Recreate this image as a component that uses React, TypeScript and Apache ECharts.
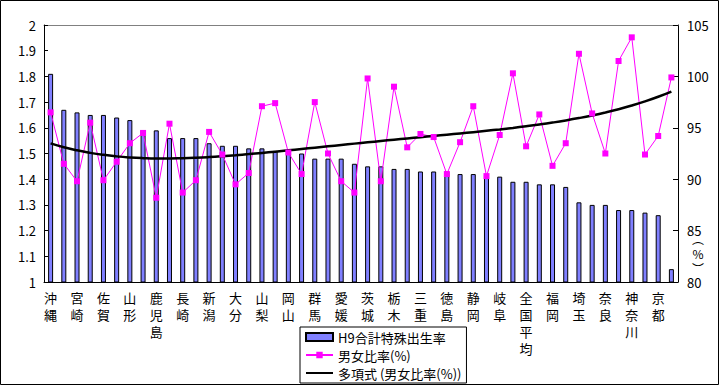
import React, { useEffect, useRef } from "react";
import * as echarts from "echarts";

const categories = [
  "沖縄", "島根", "宮崎", "福島", "佐賀", "鳥取", "山形", "熊本", "鹿児島", "長野",
  "長崎", "福井", "新潟", "岩手", "大分", "香川", "山梨", "滋賀", "岡山", "青森",
  "群馬", "富山", "愛媛", "石川", "茨城", "秋田", "栃木", "山口", "三重", "和歌山",
  "徳島", "広島", "静岡", "愛知", "岐阜", "高知", "全国平均", "兵庫", "福岡", "宮城",
  "埼玉", "千葉", "奈良", "大阪", "神奈川", "北海道", "京都", "東京",
];

const birthRate = [
  1.81, 1.67, 1.66, 1.65, 1.65, 1.64, 1.63, 1.59, 1.59, 1.56,
  1.56, 1.56, 1.54, 1.53, 1.53, 1.52, 1.52, 1.51, 1.51, 1.5,
  1.48, 1.48, 1.48, 1.46, 1.45, 1.45, 1.44, 1.44, 1.43, 1.43,
  1.43, 1.42, 1.42, 1.42, 1.41, 1.39, 1.39, 1.38, 1.38, 1.37,
  1.31, 1.3, 1.3, 1.28, 1.28, 1.27, 1.26, 1.05,
];

const sexRatio = [
  96.5, 91.5, 89.8, 95.5, 89.9, 91.7, 93.5, 94.5, 88.2, 95.4,
  88.7, 89.9, 94.6, 92.4, 89.5, 90.6, 97.1, 97.4, 92.6, 90.5,
  97.5, 92.5, 89.8, 88.7, 99.8, 89.8, 99.0, 93.1, 94.4, 94.1,
  90.5, 93.6, 97.1, 90.3, 94.3, 100.3, 93.2, 96.3, 91.3, 93.5,
  102.2, 96.4, 92.5, 101.5, 103.8, 92.4, 94.2, 99.9,
];

const leftTicks = { min: 1, max: 2, interval: 0.1 };
const rightTicks = { min: 80, max: 105, interval: 5 };

const seriesNames = ["H9合計特殊出生率", "男女比率(%)", "多項式 (男女比率(%))"];
const trendOrder = 4;

// least-squares polynomial trendline (like Excel's 多項式 trendline)
function polyFit(ys: number[], order: number): number[] {
  const n = order + 1;
  const A: number[][] = Array.from({ length: n }, () => new Array(n + 1).fill(0));
  ys.forEach((y, i) => {
    const x = (i + 1) / ys.length;
    for (let r = 0; r < n; r++) {
      for (let c = 0; c < n; c++) A[r][c] += Math.pow(x, r + c);
      A[r][n] += y * Math.pow(x, r);
    }
  });
  for (let p = 0; p < n; p++) {
    let best = p;
    for (let r = p + 1; r < n; r++) if (Math.abs(A[r][p]) > Math.abs(A[best][p])) best = r;
    [A[p], A[best]] = [A[best], A[p]];
    for (let r = 0; r < n; r++) {
      if (r === p) continue;
      const f = A[r][p] / A[p][p];
      for (let c = p; c <= n; c++) A[r][c] -= f * A[p][c];
    }
  }
  const coef = A.map((row, i) => row[n] / row[i]);
  return ys.map((_, i) => {
    const x = (i + 1) / ys.length;
    return coef.reduce((s, c, k) => s + c * Math.pow(x, k), 0);
  });
}

const FONT = "'Noto Sans CJK JP', 'Noto Sans', sans-serif";

export default function App() {
  const ref = useRef<HTMLDivElement>(null);
  useEffect(() => {
    if (!ref.current) return;
    const chart = echarts.init(ref.current, null, { renderer: "svg" });
    const trend = polyFit(sexRatio, trendOrder);
    chart.setOption({
      animation: false,
      backgroundColor: "#ffffff",
      textStyle: { fontFamily: FONT },
      grid: { left: 44, right: 41, top: 25, bottom: 103, containLabel: false },
      legend: {
        orient: "vertical",
        left: 300,
        top: 327,
        padding: [3, 5, 3, 5],
        itemGap: 4,
        itemWidth: 27,
        itemHeight: 8,
        borderColor: "#000",
        borderWidth: 1,
        backgroundColor: "#fff",
        textStyle: { fontSize: 13, color: "#000", fontFamily: FONT, lineHeight: 14 },
        data: [
          { name: seriesNames[0], icon: "rect" },
          { name: seriesNames[1] },
          { name: seriesNames[2], itemStyle: { color: "rgba(0,0,0,0)", borderWidth: 0 } },
        ],
      },
      xAxis: [
        {
          type: "category",
          data: categories,
          position: "bottom",
          axisLine: { lineStyle: { color: "#000", width: 1 } },
          axisTick: { inside: true, length: 3, interval: 0, lineStyle: { color: "#000" } },
          axisLabel: {
            interval: 1,
            margin: 7,
            fontSize: 13,
            lineHeight: 17,
            color: "#000",
            fontFamily: FONT,
            formatter: (v: string) => v.split("").join("\n"),
          },
          splitLine: { show: false },
        },
        {
          type: "category",
          data: categories,
          position: "top",
          axisLine: { lineStyle: { color: "#808080", width: 1 } },
          axisTick: { show: false },
          axisLabel: { show: false },
          splitLine: { show: false },
        },
      ],
      yAxis: [
        {
          type: "value",
          min: leftTicks.min,
          max: leftTicks.max,
          interval: leftTicks.interval,
          position: "left",
          axisLine: { show: true, lineStyle: { color: "#000" } },
          axisTick: { show: true, inside: true, length: 4, lineStyle: { color: "#000" } },
          axisLabel: { fontSize: 13, color: "#000", margin: 8, fontFamily: FONT },
          splitLine: { show: false },
        },
        {
          type: "value",
          min: rightTicks.min,
          max: rightTicks.max,
          interval: rightTicks.interval,
          position: "right",
          axisLine: { show: true, lineStyle: { color: "#000" } },
          axisTick: { show: true, inside: true, length: 5, lineStyle: { color: "#000" } },
          axisLabel: { fontSize: 13, color: "#000", margin: 9, fontFamily: FONT },
          splitLine: { show: false },
        },
      ],
      graphic: [
        {
          type: "rect",
          shape: { x: 0.5, y: 0.5, width: 718, height: 384 },
          style: { fill: "none", stroke: "#000", lineWidth: 1 },
          silent: true,
        },
        {
          type: "text",
          x: 698,
          y: 231,
          style: {
            text: "︵\n%\n︶",
            fontSize: 12,
            lineHeight: 15,
            fill: "#000",
            align: "center",
            fontFamily: FONT,
          },
        },
      ],
      series: [
        {
          name: seriesNames[0],
          type: "bar",
          data: birthRate,
          barWidth: 5,
          itemStyle: { color: "#8080ff", borderColor: "#000", borderWidth: 1 },
          xAxisIndex: 0,
          yAxisIndex: 0,
        },
        {
          name: seriesNames[1],
          type: "line",
          data: sexRatio,
          yAxisIndex: 1,
          symbol: "rect",
          symbolSize: 6,
          lineStyle: { color: "#ff00ff", width: 1 },
          itemStyle: { color: "#ff00ff" },
        },
        {
          name: seriesNames[2],
          type: "line",
          data: trend,
          yAxisIndex: 1,
          symbol: "none",
          smooth: true,
          lineStyle: { color: "#000", width: 2.5 },
          itemStyle: { color: "#000" },
        },
      ],
    });
    return () => chart.dispose();
  }, []);
  return (
    <div
      ref={ref}
      style={{ position: "fixed", left: 0, top: 0, width: 719, height: 385 }}
    />
  );
}
